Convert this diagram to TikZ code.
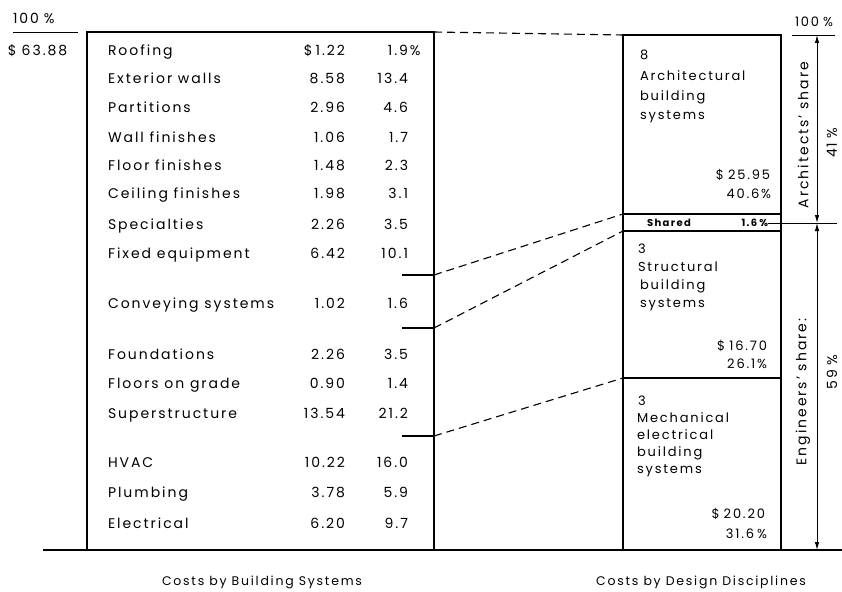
\documentclass[tikz,border=0pt]{standalone}
\usepackage{fontspec}
\setmainfont{Poppins}[LetterSpace=14]
\usetikzlibrary{arrows.meta}
\begin{document}
\begin{tikzpicture}[x=1pt,y=-1pt,
  font=\fontsize{14}{16}\selectfont,
  ln/.style={line width=1.1pt},
  dsh/.style={line width=1.1pt, dash pattern=on 8pt off 5pt},
  txt/.style={inner sep=0pt, outer sep=0pt, text height=10pt, text depth=0pt},
  lab/.style={txt, anchor=west},
  num/.style={txt, anchor=east},
  rtx/.style={txt, font=\fontsize{13}{15}\selectfont},
  rlab/.style={rtx, anchor=west},
  rnum/.style={rtx, anchor=east},
  rot/.style={inner sep=0pt, rotate=90},
  captxt/.style={txt, font=\fontsize{12.5}{14}\selectfont},
  small/.style={txt, font=\fontsize{10}{11}\selectfont\bfseries, text height=7pt},
  dim/.style={line width=0.9pt, {Latex[length=8pt,width=4.5pt]}-{Latex[length=8pt,width=4.5pt]}}
]
\useasboundingbox (0,0) rectangle (842,591);

% ---------- frames ----------
\coordinate (LBtl) at (87,32);
\coordinate (LBbr) at (434,550);
\draw[ln] (LBtl) rectangle (LBbr);
\coordinate (RBtl) at (623,35);
\coordinate (RBbr) at (781,550);
\draw[ln] (RBtl) rectangle (RBbr);
\coordinate (base0) at (43,550);
\coordinate (base1) at (842,550);
\draw[ln] (base0) -- (base1);

% shared strip and divisions
\coordinate (sh1l) at (623,214); \coordinate (sh1r) at (781,214);
\coordinate (sh2l) at (623,231); \coordinate (sh2r) at (781,231);
\coordinate (mdl) at (623,378);  \coordinate (mdr) at (781,378);
\draw[ln] (sh1l) -- (sh1r);
\draw[ln] (sh2l) -- (sh2r);
\draw[ln] (mdl) -- (mdr);

% ticks in left box
\coordinate (t1a) at (402,275); \coordinate (t1) at (434,275);
\coordinate (t2a) at (402,328); \coordinate (t2) at (434,328);
\coordinate (t3a) at (402,436); \coordinate (t3) at (434,436);
\draw[ln] (t1a) -- (t1);
\draw[ln] (t2a) -- (t2);
\draw[ln] (t3a) -- (t3);

% dashed connectors
\coordinate (LBtr) at (434,32);
\draw[dsh] (LBtr) -- (RBtl);
\draw[dsh] (t1) -- (sh1l);
\draw[dsh] (t2) -- (sh2l);
\draw[dsh] (t3) -- (mdl);

% ---------- left totals ----------
\node[txt, anchor=west] (l100) at (13,19) {100\hspace{5pt}\%};
\coordinate (lu0) at (13,32); \coordinate (lu1) at (78,32);
\draw[line width=0.9pt] (lu0) -- (lu1);
\node[txt, anchor=west] (ltot) at (8,51) {\$\hspace{5pt}63.88};

% ---------- table rows ----------
\node[lab] (r1) at (108,51) {Roofing};
\node[num] (d1) at (345,51) {\llap{\$\hspace{3pt}}1.22};
\node[num] (p1) at (408,51) {1.9\rlap{\hspace{2pt}\%}};
\foreach \i/\y/\t/\d/\p in {
  2/79/Exterior walls/8.58/13.4,
  3/108/Partitions/2.96/4.6,
  4/137/Wall finishes/1.06/1.7,
  5/165/Floor finishes/1.48/2.3,
  6/193/Ceiling finishes/1.98/3.1,
  7/224/Specialties/2.26/3.5,
  8/253/Fixed equipment/6.42/10.1,
  9/303/Conveying systems/1.02/1.6,
  10/354/Foundations/2.26/3.5,
  11/383/Floors on grade/0.90/1.4,
  12/413/Superstructure/13.54/21.2,
  13/462/HVAC/10.22/16.0,
  14/492/Plumbing/3.78/5.9,
  15/523/Electrical/6.20/9.7}{
  \node[lab] (r\i) at (108,\y) {\t};
  \node[num] (d\i) at (345,\y) {\d};
  \node[num] (p\i) at (408,\y) {\p};
}

% ---------- right box texts ----------
\node[rlab] (a0) at (640,55) {8};
\node[rlab] (a1) at (640,76) {Architectural};
\node[rlab] (a2) at (640,95) {building};
\node[rlab] (a3) at (640,114) {systems};
\node[rnum] (a4) at (770,174) {\$\hspace{4pt}25.95};
\node[rnum] (a5) at (771,193) {40.6\%};

\node[small, anchor=west] (shd) at (647,223) {Shared};
\node[small, anchor=east] (shp) at (768,223) {1.6\hspace{2pt}\%};

\node[rlab] (s0) at (638,248) {3};
\node[rlab] (s1) at (638,266) {Structural};
\node[rlab] (s2) at (640,284) {building};
\node[rlab] (s3) at (640,302) {systems};
\node[rnum] (s4) at (767,345) {\$\hspace{4pt}16.70};
\node[rnum] (s5) at (767,363) {26.1\%};

\node[rlab] (m0) at (638,400) {3};
\node[rlab] (m1) at (637,417) {Mechanical};
\node[rlab] (m2) at (637,434) {electrical};
\node[rlab] (m3) at (637,451) {building};
\node[rlab] (m4) at (637,468) {systems};
\node[rnum] (m5) at (765,513) {\$\hspace{4pt}20.20};
\node[rnum] (m6) at (767,533) {31.6\hspace{3pt}\%};

% ---------- right dimensions ----------
\node[rtx, anchor=west] (r100) at (795,22) {100\hspace{4pt}\%};
\coordinate (ru0) at (792,35); \coordinate (ru1) at (835,35);
\draw[line width=0.9pt] (ru0) -- (ru1);
\coordinate (dtop) at (817,35);
\coordinate (dmid) at (817,223);
\coordinate (dbot) at (817,550);
\coordinate (hm0) at (768,223); \coordinate (hm1) at (837,223);
\draw[line width=0.9pt] (hm0) -- (hm1);
\draw[dim] (dtop) -- (dmid);
\draw[dim] (dmid) -- (dbot);

\node[rot] (arch) at (803,135) {Architects' share};
\node[rot] (p41) at (832,143) {41\hspace{4pt}\%};
\node[rot] (eng) at (803,392) {Engineers' share:};
\node[rot] (p59) at (832,372) {59\hspace{4pt}\%};

% ---------- captions ----------
\node[captxt] (cap1) at (262,580) {Costs by Building Systems};
\node[captxt] (cap2) at (701,580) {Costs by Design Disciplines};
\end{tikzpicture}
\end{document}
